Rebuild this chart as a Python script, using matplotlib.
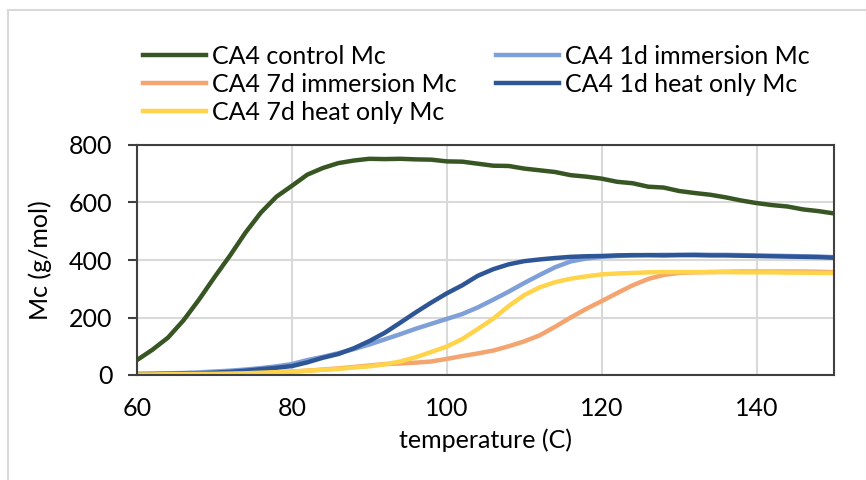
import numpy as np
import matplotlib
matplotlib.use("Agg")
import matplotlib.pyplot as plt
from matplotlib.patches import Rectangle

plt.rcParams['font.family'] = ['Lato', 'DejaVu Sans']

# temperature grid (C)
temperature = list(range(60, 151, 2))

control_mc = [52, 88, 130, 190, 262, 340, 415, 495, 565, 620, 658, 697, 720, 737, 746, 752,
              751, 752, 750, 749, 743, 742, 735, 728, 727, 718, 712, 706, 695, 690, 683, 672,
              667, 655, 652, 640, 633, 627, 618, 607, 598, 591, 586, 576, 570, 562]
imm_1d_mc = [4, 5, 6, 7, 9, 12, 15, 19, 24, 30, 38, 52, 63, 76, 90, 106,
             124, 142, 161, 178, 195, 212, 235, 262, 290, 320, 348, 375, 395, 405, 411, 414,
             416, 417, 418, 418, 419, 418, 418, 417, 416, 415, 414, 413, 412, 410]
imm_7d_mc = [3, 3, 3, 4, 4, 5, 6, 7, 8, 10, 12, 15, 19, 23, 28, 33,
             38, 40, 43, 47, 56, 66, 75, 85, 100, 117, 138, 168, 200, 230, 257, 285,
             312, 334, 348, 355, 357, 358, 359, 360, 360, 360, 360, 360, 359, 358]
heat_1d_mc = [3, 3, 4, 5, 6, 8, 11, 15, 20, 25, 31, 44, 60, 73, 93, 118,
              147, 182, 218, 252, 284, 312, 345, 368, 385, 396, 402, 407, 411, 413, 414, 416,
              417, 417, 416, 417, 417, 416, 416, 415, 414, 413, 412, 411, 410, 408]
heat_7d_mc = [2, 2, 3, 3, 4, 4, 5, 6, 8, 10, 12, 15, 18, 21, 26, 30,
              37, 47, 62, 80, 99, 125, 160, 196, 240, 278, 305, 323, 335, 343, 350, 353,
              355, 357, 358, 358, 358, 358, 358, 357, 357, 357, 356, 356, 355, 355]

fig = plt.figure(figsize=(8.66, 4.8), dpi=100)
fig.patches.append(Rectangle((8 / 866, -0.05), 1.1, 1 - 10 / 480 + 0.05,
                             transform=fig.transFigure, fill=False,
                             edgecolor='#d9d9d9', linewidth=1.5))

ax = fig.add_axes([137 / 866, 105 / 480, 697 / 866, 230 / 480])

l_ctrl, = ax.plot(temperature, control_mc, color='#375623', lw=3.2, label='CA4 control Mc')
l_i1, = ax.plot(temperature, imm_1d_mc, color='#7f9fd8', lw=3.2, label='CA4 1d immersion Mc')
l_i7, = ax.plot(temperature, imm_7d_mc, color='#f4a46f', lw=3.2, label='CA4 7d immersion Mc')
l_h1, = ax.plot(temperature, heat_1d_mc, color='#2e5596', lw=3.2, label='CA4 1d heat only Mc')
l_h7, = ax.plot(temperature, heat_7d_mc, color='#ffd34a', lw=3.2, label='CA4 7d heat only Mc')

ax.set_xlim(60, 150)
ax.set_ylim(0, 800)
ax.set_xticks([60, 80, 100, 120, 140])
ax.set_yticks([0, 200, 400, 600, 800])
ax.grid(True, color='#d9d9d9', linewidth=1.5)
ax.set_axisbelow(True)
for s in ax.spines.values():
    s.set_color('#404040')
    s.set_linewidth(1.5)

ax.tick_params(axis='x', length=0, pad=16, labelsize=18)
ax.tick_params(axis='y', length=6.5, width=1.5, color='#404040', pad=11, labelsize=18)

ax.set_xlabel('temperature (C)', fontsize=18)
ax.xaxis.set_label_coords(0.5, -0.285)
ax.xaxis.label.set_va('center')
ax.set_ylabel('Mc (g/mol)', fontsize=18)
ax.yaxis.set_label_coords(-0.139, 0.5)
ax.yaxis.label.set_va('center')

# legend filled row by row like the original two-column layout
fig.legend([l_ctrl, l_i7, l_h7, l_i1, l_h1],
           [l_ctrl.get_label(), l_i7.get_label(), l_h7.get_label(),
            l_i1.get_label(), l_h1.get_label()],
           ncol=2, loc='upper left', bbox_to_anchor=(143 / 866, 1 - 45 / 480),
           frameon=False, borderpad=0, borderaxespad=0, fontsize=18,
           handlelength=2.5, handletextpad=0.25, columnspacing=1.6, labelspacing=0.2)

fig.savefig('out.png', dpi=100)
